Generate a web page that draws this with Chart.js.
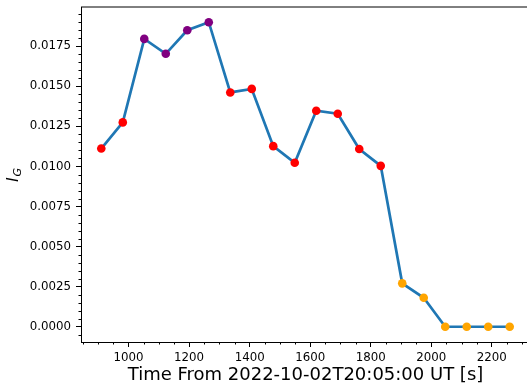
<!DOCTYPE html>
<html>
<head>
<meta charset="utf-8">
<script src="https://cdn.jsdelivr.net/npm/chart.js@4"></script>
<style>
  html, body { margin: 0; padding: 0; background: #fff; overflow: hidden; }
  #wrap { width: 535px; height: 386px; }
</style>
</head>
<body>
<div id="wrap"><canvas id="myChart" width="535" height="386"></canvas></div>
<script>
// time since 2022-10-02T20:05:00 UT, seconds
const times = [910, 981, 1052, 1123, 1194, 1265, 1336, 1407, 1478, 1549,
               1620, 1691, 1762, 1833, 1904, 1975, 2046, 2117, 2188, 2259];
const igValues = [0.01112, 0.01275, 0.01796, 0.01703, 0.01850, 0.01900, 0.01462, 0.01484, 0.01127, 0.01023,
                  0.01348, 0.01329, 0.01109, 0.01004, 0.00271, 0.00181, 0.0, 0.0, 0.0, 0.0];
// marker class for each sample
const pointClass = ['low', 'low', 'high', 'high', 'high', 'high', 'low', 'low', 'low', 'low',
                    'low', 'low', 'low', 'low', 'zero', 'zero', 'zero', 'zero', 'zero', 'zero'];
const xTickValues = [1000, 1200, 1400, 1600, 1800, 2000, 2200];
const yTickValues = [0, 0.0025, 0.005, 0.0075, 0.01, 0.0125, 0.015, 0.0175];

const classColors = { low: '#ff0000', high: '#800080', zero: '#ffa500' };
const FONT = 'DejaVu Sans';

// minor ticks, top spine and the I_G label
const extrasPlugin = {
    id: 'extras',
    afterDraw(chart) {
        const ctx = chart.ctx;
        const area = chart.chartArea;
        const xs = chart.scales.x;
        const ys = chart.scales.y;
        ctx.save();
        ctx.strokeStyle = '#000';
        ctx.lineWidth = 1;
        ctx.beginPath();
        for (let v = 850; v <= 2300; v += 50) {
            if (v % 200 === 0) continue;
            const px = Math.round(xs.getPixelForValue(v)) + 0.5;
            ctx.moveTo(px, area.bottom);
            ctx.lineTo(px, area.bottom + 2.5);
        }
        for (let i = -1; i <= 39; i++) {
            if (i % 5 === 0) continue;
            const py = Math.round(ys.getPixelForValue(i * 0.0005)) + 0.5;
            ctx.moveTo(area.left - 2.5, py);
            ctx.lineTo(area.left, py);
        }
        ctx.stroke();
        // top spine
        ctx.beginPath();
        ctx.moveTo(area.left, area.top);
        ctx.lineTo(area.right, area.top);
        ctx.stroke();
        ctx.restore();

        // y axis label
        ctx.save();
        ctx.translate(18, 182);
        ctx.rotate(-Math.PI / 2);
        ctx.fillStyle = '#000';
        ctx.textBaseline = 'alphabetic';
        ctx.font = 'italic 16px "' + FONT + '"';
        ctx.fillText('I', 0, 0);
        ctx.font = 'italic 11px "' + FONT + '"';
        ctx.fillText('G', 5.5, 3);
        ctx.restore();
    }
};

new Chart(document.getElementById('myChart'), {
    type: 'line',
    data: {
        datasets: [{
            data: times.map((t, i) => ({ x: t, y: igValues[i] })),
            borderColor: '#1f77b4',
            borderWidth: 2.7,
            tension: 0,
            pointRadius: 4.3,
            pointBorderWidth: 0,
            pointBackgroundColor: pointClass.map(c => classColors[c]),
            pointHoverRadius: 4.3
        }]
    },
    options: {
        responsive: false,
        animation: false,
        layout: { padding: { top: 7, right: 5, left: 0, bottom: 0 } },
        plugins: {
            legend: { display: false },
            tooltip: { enabled: false }
        },
        scales: {
            x: {
                type: 'linear',
                min: 843,
                max: 2326,
                afterBuildTicks: scale => { scale.ticks = xTickValues.map(v => ({ value: v })); },
                afterFit: scale => {
                    scale.height = 44;
                    scale.paddingLeft = 0;
                    scale.paddingRight = 0;
                },
                grid: { drawOnChartArea: false, drawTicks: true, tickLength: 5, tickColor: '#000', tickWidth: 1 },
                border: { display: true, color: '#000', width: 1 },
                ticks: {
                    color: '#000',
                    padding: 4,
                    maxRotation: 0,
                    font: { family: FONT, size: 11.8 },
                    callback: v => String(v)
                },
                title: {
                    display: true,
                    text: 'Time From 2022-10-02T20:05:00 UT [s]',
                    color: '#000',
                    font: { family: FONT, size: 18 },
                    padding: { top: 0, bottom: 0 }
                }
            },
            y: {
                min: -0.00095,
                max: 0.01995,
                afterBuildTicks: scale => { scale.ticks = yTickValues.map(v => ({ value: v })); },
                afterFit: scale => {
                    scale.width = 81;
                    scale.paddingTop = 0;
                    scale.paddingBottom = 0;
                },
                grid: { drawOnChartArea: false, drawTicks: true, tickLength: 5, tickColor: '#000', tickWidth: 1 },
                border: { display: true, color: '#000', width: 1 },
                ticks: {
                    color: '#000',
                    padding: 5,
                    font: { family: FONT, size: 11.8 },
                    callback: v => v.toFixed(4)
                }
            }
        }
    },
    plugins: [extrasPlugin]
});
</script>
</body>
</html>
